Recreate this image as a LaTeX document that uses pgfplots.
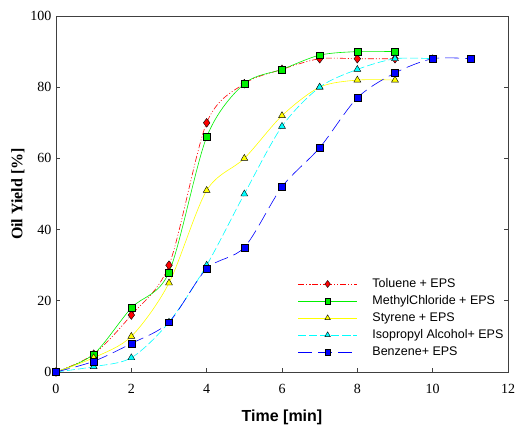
\documentclass[border=0pt]{standalone}
\usepackage{fontspec}
\setmainfont{Liberation Serif}
\newfontfamily\arial{Liberation Sans}
\usepackage{pgfplots}
\pgfplotsset{compat=1.18}
\definecolor{myred}{RGB}{255,0,0}
\definecolor{mygreen}{RGB}{0,240,0}
\definecolor{myyellow}{RGB}{255,255,0}
\definecolor{mycyan}{RGB}{0,255,255}
\definecolor{myblue}{RGB}{0,0,255}
\begin{document}
\begin{tikzpicture}
\begin{axis}[
  name=ax,
  at={(0,0)}, anchor=south west,
  scale only axis,
  width=452pt, height=356pt,
  xmin=0, xmax=12, ymin=0, ymax=100,
  xtick={0,2,...,12}, ytick={0,20,...,100},
  xtick pos=bottom, ytick pos=both, tick align=inside,
  major tick length=4pt,
  axis line style={black!75, line width=0.7pt},
  tick style={black!75, line width=0.7pt},
  xticklabel={\pgfmathprintnumber[assume math mode=true]{\tick}},
  yticklabel={\pgfmathprintnumber[assume math mode=true]{\tick}},
  ticklabel style={font=\rmfamily\fontsize{14}{16}\selectfont},
  xticklabel style={yshift=-9pt},
  yticklabel style={xshift=-1pt},
  xlabel={\arial\bfseries Time [min]},
  ylabel={\bfseries Oil Yield [\%]},
  xlabel style={font=\fontsize{16}{18}\selectfont, yshift=-9pt},
  ylabel style={font=\fontsize{16}{18}\selectfont, yshift=-1pt},
  legend style={at={(rel axis cs:0.535,0.264)}, anchor=north west, draw=none, fill=none,
    inner sep=0pt, outer sep=0pt,
    font=\arial\fontsize{12.5}{14}\selectfont, row sep=5pt,
    nodes={inner sep=0pt, text height=9pt, text depth=3pt}},
  legend cell align=left,
  legend image code/.code={\draw[mark repeat=2,mark phase=2, every mark/.append style={scale=0.8}] plot coordinates {(0pt,0pt) (29.5pt,0pt) (59pt,0pt)};
    \path (74pt,0pt);},
  every axis plot/.append style={line width=0.6pt},
  mark size=3.4pt,
]
\addplot[myred, smooth, dash pattern=on 6pt off 2pt on 1pt off 2pt on 1pt off 2pt,
  mark=diamond*, mark size=4.4pt, mark options={solid, fill=myred, draw=black, line width=0.4pt}]
  coordinates {(0,0) (1,5) (2,16) (3,30) (4,70) (5,81) (6,85) (7,88) (8,88) (9,88)};
\addlegendentry{Toluene + EPS}
\addplot[mygreen, smooth,
  mark=square*, mark options={solid, fill=mygreen, draw=black, line width=0.4pt}]
  coordinates {(0,0) (1,5) (2,18) (3,28) (4,66) (5,81) (6,85) (7,89) (8,90) (9,90)};
\addlegendentry{MethylChloride + EPS}
\addplot[myyellow, smooth,
  mark=triangle*, mark size=4pt, mark options={solid, fill=myyellow, draw=black, line width=0.4pt}]
  coordinates {(0,0) (1,4) (2,10) (3,25) (4,51) (5,60) (6,72) (7,80) (8,82) (9,82)};
\addlegendentry{Styrene + EPS}
\addplot[mycyan, smooth, dash pattern=on 8pt off 3pt,
  mark=triangle*, mark size=4pt, mark options={solid, fill=mycyan, draw=black, line width=0.4pt}]
  coordinates {(0,0) (1,1.5) (2,4) (3,14) (4,30) (5,50) (6,69) (7,80) (8,85) (9,88) (10,88)};
\addlegendentry{Isopropyl Alcohol+ EPS}
\addplot[myblue, smooth, dash pattern=on 14pt off 6pt,
  mark=square*, mark options={solid, fill=myblue, draw=black, line width=0.4pt}]
  coordinates {(0,0) (1,3) (2,8) (3,14) (4,29) (5,35) (6,52) (7,63) (8,77) (9,84) (10,88) (11,88)};
\addlegendentry{Benzene+ EPS}
\end{axis}
\pgfresetboundingbox
\useasboundingbox (-56pt,-56pt) rectangle (461pt,372pt);
\end{tikzpicture}
\end{document}
